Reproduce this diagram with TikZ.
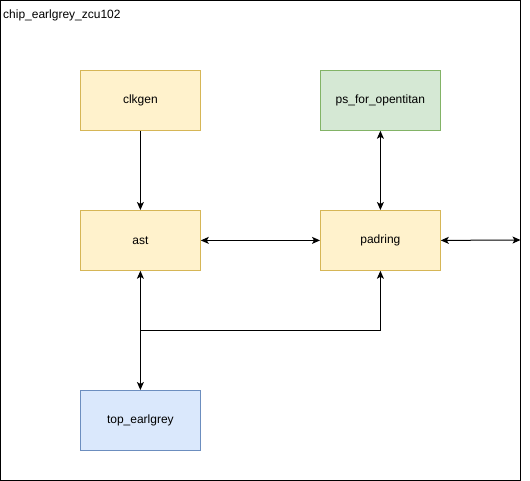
\documentclass[tikz,border=0pt]{standalone}
\usepackage{fontspec}
\setmainfont{Liberation Sans}
\usepackage{tikz}
\usetikzlibrary{arrows.meta,positioning}

\definecolor{yfill}{HTML}{FFF2CC}
\definecolor{ydraw}{HTML}{D6B656}
\definecolor{gfill}{HTML}{D5E8D4}
\definecolor{gdraw}{HTML}{82B366}
\definecolor{bfill}{HTML}{DAE8FC}
\definecolor{bdraw}{HTML}{6C8EBF}

\begin{document}
\begin{tikzpicture}[x=1pt,y=-1pt,font=\fontsize{12}{14}\selectfont,
>={Stealth[length=8pt,width=7pt,inset=2pt]}]
\tikzstyle{block} = [rectangle, draw=ydraw, fill=yfill, line width=0.8pt,
minimum width=120pt, minimum height=60pt, inner sep=0pt, anchor=north west]
\tikzstyle{block_ps} = [block, draw=gdraw, fill=gfill]
\tikzstyle{block_top} = [block, draw=bdraw, fill=bfill]
\tikzstyle{line} = [draw, line width=1pt, <->];
\useasboundingbox (0,0) rectangle (530,481);
% outer frame
\draw[line width=1pt] (0.5,0.5) rectangle (520.5,480.5);
\node[anchor=west, inner sep=0pt] (chip) at (3,15) {chip\_earlgrey\_zcu102};
% row 1
\node [block] (clkgen) at (80,70) {clkgen};
\node [block_ps] (ps) at (320,70) {ps\_for\_opentitan};
% row 2
\node [block] (ast) at (80,210) {ast};
\node [block] (padring) at (320,210) {padring};
% row 3
\node [block_top] (top) at (80,390) {top\_earlgrey};
\coordinate (edge) at (520.5,240);
\coordinate (split) at (140,330);
\path [draw, line width=1pt, ->] (clkgen) -- (ast);
\path [line] (ps) -- (padring);
\path [line] (ast) -- (padring);
\path [line] (padring.east) -- (edge);
\path [line] (ast) -- (top);
\path [draw, line width=1pt, ->] (split) -| (padring.south);
\end{tikzpicture}
\end{document}
